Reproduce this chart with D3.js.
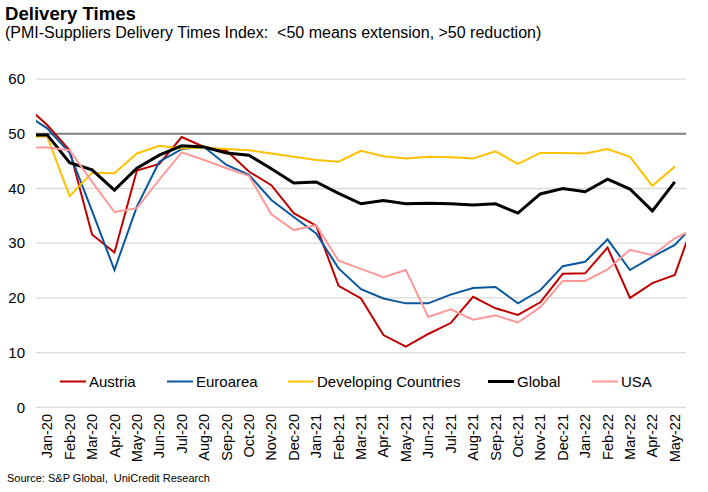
<!DOCTYPE html>
<html>
<head>
<meta charset="utf-8">
<script src="https://cdn.jsdelivr.net/npm/d3@7"></script>
<style>
  html, body { margin: 0; padding: 0; background: #fff; }
  svg { display: block; font-family: "Liberation Sans", Arial, sans-serif; }
  text { white-space: pre; }
</style>
</head>
<body>
<svg id="chart" width="708" height="492"></svg>
<script>
// Months incl. one point before and after the visible axis (clipped by the plot area, as in the original)
const months = ["Dec-19","Jan-20","Feb-20","Mar-20","Apr-20","May-20","Jun-20","Jul-20","Aug-20","Sep-20","Oct-20","Nov-20","Dec-20",
  "Jan-21","Feb-21","Mar-21","Apr-21","May-21","Jun-21","Jul-21","Aug-21","Sep-21","Oct-21","Nov-21","Dec-21",
  "Jan-22","Feb-22","Mar-22","Apr-22","May-22","Jun-22"];
const tickLabels = months.slice(1, 30); // Jan-20 ... May-22

const austria    = [55.3,51.6,47.0,31.6,28.3,43.3,44.5,49.4,47.6,46.9,43.1,40.6,35.5,33.2,22.2,19.9,13.2,11.1,13.4,15.4,20.2,18.1,16.9,19.2,24.4,24.5,29.2,20.0,22.7,24.2,35.7];
const euroarea   = [53.7,51.0,46.5,35.9,25.1,36.7,44.9,47.2,47.6,44.3,42.5,37.9,34.8,31.8,25.4,21.6,19.9,19.0,19.0,20.6,21.8,22.0,19.0,21.4,25.8,26.6,30.7,25.1,27.5,29.7,34.0];
const developing = [49.5,49.5,38.6,42.9,42.8,46.4,47.8,47.3,47.5,47.2,47.0,46.4,45.8,45.2,44.9,46.9,45.9,45.5,45.8,45.7,45.5,46.8,44.5,46.5,46.5,46.4,47.2,45.8,40.5,44.0,null];
const global     = [49.8,49.8,44.7,43.4,39.7,43.7,46.1,47.8,47.6,46.5,46.1,43.6,41.0,41.2,39.1,37.2,37.8,37.2,37.3,37.2,37.0,37.2,35.5,39.0,40.0,39.4,41.7,39.9,35.9,41.2,null];
const usa        = [47.5,47.5,47.0,41.2,35.7,36.4,41.6,46.6,45.2,43.7,42.3,35.3,32.4,33.3,26.8,25.3,23.8,25.1,16.5,17.9,16.0,16.8,15.5,18.3,23.1,23.1,25.2,28.8,27.8,30.9,32.9];

const yTicks = [0,10,20,30,40,50,60];
const threshold = 50;

const series = [
  {name:"Austria", values:austria, color:"#C00000", width:2},
  {name:"Euroarea", values:euroarea, color:"#0957A0", width:2},
  {name:"Developing Countries", values:developing, color:"#FFC000", width:2},
  {name:"Global", values:global, color:"#000000", width:3},
  {name:"USA", values:usa, color:"#FF9999", width:2}
];

const svg = d3.select("#chart");
const L = 36, R = 686, T = 79.1, B = 407.3;

// x: visible categories Jan-20..May-22 occupy index 0..28, centered in bands
const x = d3.scaleLinear().domain([-0.5, tickLabels.length - 0.5]).range([L, R]);
const y = d3.scaleLinear().domain([0, 60]).range([B, T]);

// Titles
svg.append("text").attr("x", 5).attr("y", 20).attr("font-size", 18.6).attr("font-weight", "bold")
  .attr("fill", "#000").text("Delivery Times");
svg.append("text").attr("x", 5).attr("y", 37.5).attr("font-size", 16).attr("fill", "#000")
  .text("(PMI-Suppliers Delivery Times Index:  <50 means extension, >50 reduction)");

// Gridlines
svg.append("g").selectAll("line").data(yTicks).join("line")
  .attr("x1", L).attr("x2", R).attr("y1", d => y(d)).attr("y2", d => y(d))
  .attr("stroke", "#D9D9D9").attr("stroke-width", 1.3);

// Y axis labels
svg.append("g").selectAll("text").data(yTicks).join("text")
  .attr("x", 25).attr("y", d => y(d)).attr("dy", "0.35em").attr("text-anchor", "end")
  .attr("font-size", 15).attr("fill", "#000").text(d => d);

// 50 threshold line
svg.append("line").attr("x1", L).attr("x2", R).attr("y1", y(threshold)).attr("y2", y(threshold))
  .attr("stroke", "#808080").attr("stroke-width", 2);

// X labels
svg.append("g").selectAll("text").data(tickLabels).join("text")
  .attr("transform", (d, i) => `translate(${x(i)},414) rotate(-90)`)
  .attr("dy", "0.35em").attr("text-anchor", "end")
  .attr("font-size", 14.5).attr("fill", "#000").text(d => d);

// Clip
svg.append("defs").append("clipPath").attr("id", "plotclip")
  .append("rect").attr("x", L).attr("y", 0).attr("width", R - L).attr("height", B);

const line = d3.line()
  .defined(d => d.v != null)
  .x(d => x(d.i - 1))
  .y(d => y(d.v));

const g = svg.append("g").attr("clip-path", "url(#plotclip)");
series.forEach(s => {
  g.append("path")
    .datum(s.values.map((v, i) => ({i, v})))
    .attr("fill", "none").attr("stroke", s.color).attr("stroke-width", s.width)
    .attr("stroke-linejoin", "miter").attr("d", line);
});

// Legend
const legendX = [60, 167, 288, 488, 592];
const lg = svg.append("g");
series.forEach((s, k) => {
  lg.append("line").attr("x1", legendX[k]).attr("x2", legendX[k] + 26)
    .attr("y1", 381.5).attr("y2", 381.5).attr("stroke", s.color).attr("stroke-width", s.width);
  lg.append("text").attr("x", legendX[k] + 29).attr("y", 381.5).attr("dy", "0.35em")
    .attr("font-size", 15).attr("fill", "#000").text(s.name);
});

// Source
svg.append("text").attr("x", 7).attr("y", 482).attr("font-size", 11).attr("fill", "#000")
  .text("Source: S&P Global,  UniCredit Research");
</script>
</body>
</html>
